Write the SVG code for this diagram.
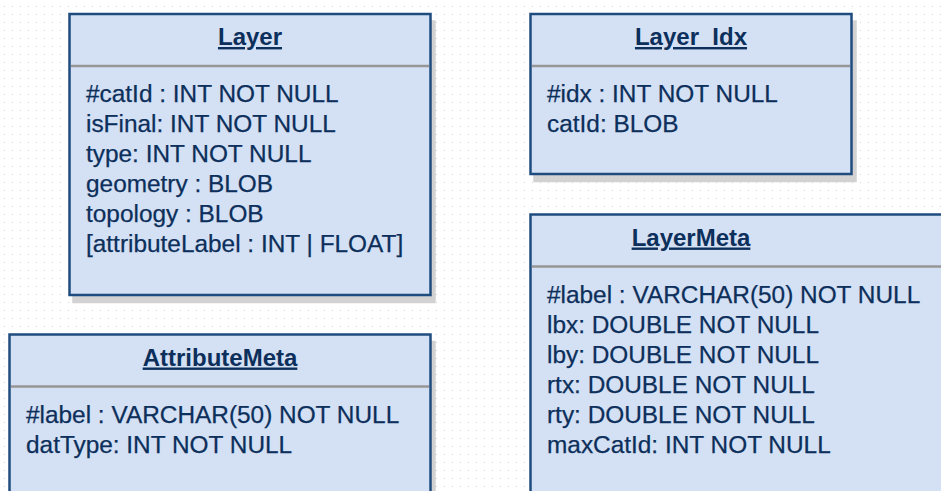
<svg xmlns="http://www.w3.org/2000/svg" width="941" height="491" viewBox="0 0 941 491">
  <defs>
    <pattern id="grid" patternUnits="userSpaceOnUse" x="4" y="6" width="8" height="8">
      <rect x="0" y="0" width="1" height="1" fill="#d6d6d6"/>
    </pattern>
  </defs>
  <style>
    .shadow { fill: #d2d2d2; }
    .box { fill: #d4e0f3; stroke: #1f4c7f; stroke-width: 2.5; }
    .sep { stroke: #969696; stroke-width: 2.5; }
    .title { font-family: "Liberation Sans", Arial, sans-serif; font-size: 24px; font-weight: bold; fill: #0c2f5b; text-anchor: middle; text-decoration: underline; }
    .field { font-family: "Liberation Sans", Arial, sans-serif; font-size: 24.4px; fill: #0c2f5b; stroke: #0c2f5b; stroke-width: 0.25; }
  </style>

  <!-- canvas with dotted grid -->
  <rect x="0" y="0" width="941" height="491" fill="#ffffff"/>
  <rect x="0" y="0" width="941" height="491" fill="url(#grid)"/>

  <!-- Layer table -->
  <g id="layer">
    <rect class="shadow" x="72.25" y="20.25" width="363.5" height="283"/>
    <rect class="box" x="69.5" y="14" width="361" height="281"/>
    <line class="sep" x1="71" y1="66" x2="429" y2="66"/>
    <text class="title" x="250" y="45">Layer</text>
    <text class="field" x="86" y="101.5">#catId : INT NOT NULL</text>
    <text class="field" x="86" y="131.5">isFinal: INT NOT NULL</text>
    <text class="field" x="86" y="161.5">type: INT NOT NULL</text>
    <text class="field" x="86" y="191.5">geometry : BLOB</text>
    <text class="field" x="86" y="221.5">topology : BLOB</text>
    <text class="field" x="86" y="251.5">[attributeLabel : INT | FLOAT]</text>
  </g>

  <!-- Layer_Idx table -->
  <g id="layer-idx">
    <rect class="shadow" x="533.25" y="20.25" width="323.5" height="162"/>
    <rect class="box" x="530.5" y="14" width="321" height="160"/>
    <line class="sep" x1="532" y1="66" x2="850" y2="66"/>
    <text class="title" x="691" y="45">Layer_Idx</text>
    <text class="field" x="547" y="101.5">#idx : INT NOT NULL</text>
    <text class="field" x="547" y="131.5">catId: BLOB</text>
  </g>

  <!-- AttributeMeta table -->
  <g id="attribute-meta">
    <rect class="shadow" x="12.25" y="340.75" width="423.5" height="200"/>
    <rect class="box" x="9.5" y="334.5" width="421" height="200"/>
    <line class="sep" x1="11" y1="386.5" x2="429" y2="386.5"/>
    <text class="title" x="220" y="365.5">AttributeMeta</text>
    <text class="field" x="26" y="422.5">#label : VARCHAR(50) NOT NULL</text>
    <text class="field" x="26" y="452.5">datType: INT NOT NULL</text>
  </g>

  <!-- LayerMeta table -->
  <g id="layer-meta">
    <rect class="shadow" x="533.25" y="220.75" width="500" height="300"/>
    <rect class="box" x="530.5" y="214.5" width="500" height="300"/>
    <line class="sep" x1="532" y1="266.5" x2="941" y2="266.5"/>
    <text class="title" x="691" y="245.5">LayerMeta</text>
    <text class="field" x="547" y="302.5">#label : VARCHAR(50) NOT NULL</text>
    <text class="field" x="547" y="332.5">lbx: DOUBLE NOT NULL</text>
    <text class="field" x="547" y="362.5">lby: DOUBLE NOT NULL</text>
    <text class="field" x="547" y="392.5">rtx: DOUBLE NOT NULL</text>
    <text class="field" x="547" y="422.5">rty: DOUBLE NOT NULL</text>
    <text class="field" x="547" y="452.5">maxCatId: INT NOT NULL</text>
  </g>

  <!-- no relationships are drawn between the tables -->
  <g id="connectors"/>
</svg>
